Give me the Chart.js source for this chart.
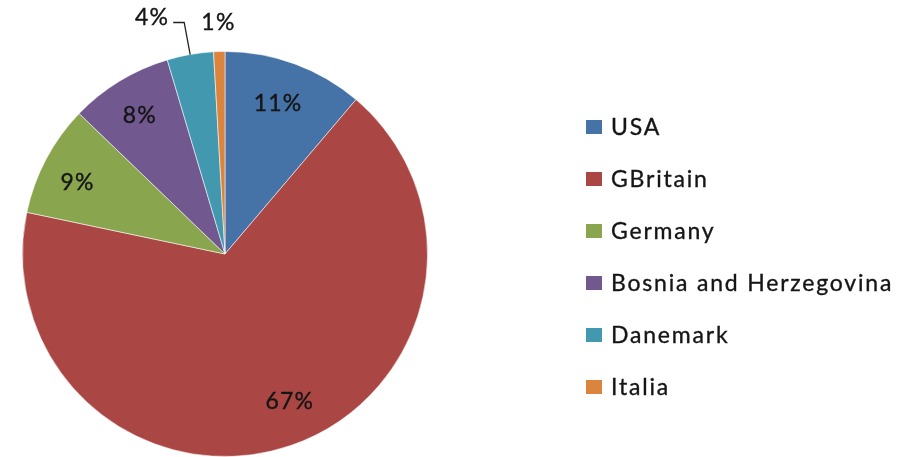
<!DOCTYPE html>
<html>
<head>
<meta charset="utf-8">
<script src="https://cdn.jsdelivr.net/npm/chart.js@4.4.0/dist/chart.umd.min.js"></script>
<style>
  html, body { margin: 0; padding: 0; background: #fff; }
  canvas { display: block; }
</style>
</head>
<body>
<canvas id="pie" width="898" height="457"></canvas>
<script>
const countries = ['USA', 'GBritain', 'Germany', 'Bosnia and Herzegovina', 'Danemark', 'Italia'];
const shares = [11.2, 67.1, 8.9, 8.2, 3.7, 0.9];
const sliceColors = ['#4572A7', '#AA4643', '#89A54E', '#71588F', '#4198AF', '#DB843D'];
// which slices get their label outside the pie (the two thin ones)
const outsideLabel = [false, false, false, false, true, true];
const leaderLine = [false, false, false, false, true, false];

const total = shares.reduce((a, b) => a + b, 0);
const pctLabels = shares.map((v) => `${Math.round((v / total) * 100)}%`);

const FONT = '23px Lato';
const TEXT_COLOR = '#151515';

// draw text a touch heavier, closer to the blurred Calibri of the original
function heavyText(ctx, text, x, y) {
  ctx.fillText(text, x, y);
  ctx.strokeText(text, x, y);
}

const sliceLabels = {
  id: 'sliceLabels',
  afterDatasetsDraw(chart, args, opts) {
    const { ctx } = chart;
    const meta = chart.getDatasetMeta(0);
    ctx.save();
    ctx.font = FONT;
    ctx.letterSpacing = '1.2px';
    ctx.fillStyle = TEXT_COLOR;
    ctx.textBaseline = 'middle';

    meta.data.forEach((arc, i) => {
      const { x, y, startAngle, endAngle, outerRadius } = arc.getProps(
        ['x', 'y', 'startAngle', 'endAngle', 'outerRadius'], true);
      const mid = (startAngle + endAngle) / 2;
      const text = pctLabels[i];
      const [nx, ny] = opts.nudge[i] || [0, 0];

      ctx.strokeStyle = TEXT_COLOR;
      ctx.lineWidth = 0.35;

      if (!outsideLabel[i]) {
        const r = outerRadius * 0.79;
        ctx.textAlign = 'center';
        heavyText(ctx, text, x + Math.cos(mid) * r + nx, y + Math.sin(mid) * r + ny);
        return;
      }

      if (leaderLine[i]) {
        const px = x + Math.cos(mid) * outerRadius;
        const py = y + Math.sin(mid) * outerRadius;
        const ex = px - 6;
        const ey = y - outerRadius - 29;
        ctx.strokeStyle = '#222';
        ctx.lineWidth = 1.3;
        ctx.beginPath();
        ctx.moveTo(px, py);
        ctx.lineTo(ex, ey);
        ctx.lineTo(ex - 11, ey);
        ctx.stroke();
        ctx.strokeStyle = TEXT_COLOR;
        ctx.lineWidth = 0.35;
        ctx.textAlign = 'right';
        heavyText(ctx, text, ex - 15, ey - 5);
        return;
      }

      const r = outerRadius + 29;
      ctx.textAlign = 'center';
      heavyText(ctx, text, x + Math.cos(mid) * r + nx, y + Math.sin(mid) * r + ny);
    });
    ctx.restore();
  },
};

const sideLegend = {
  id: 'sideLegend',
  afterDraw(chart, args, opts) {
    const { ctx } = chart;
    const ds = chart.data.datasets[0];
    ctx.save();
    ctx.font = FONT;
    ctx.letterSpacing = '1.8px';
    ctx.textAlign = 'left';
    ctx.textBaseline = 'alphabetic';
    ctx.strokeStyle = TEXT_COLOR;
    ctx.lineWidth = 0.35;
    chart.data.labels.forEach((label, i) => {
      const cy = opts.top + i * opts.rowGap;
      ctx.fillStyle = ds.backgroundColor[i];
      ctx.fillRect(opts.left, cy - 7, 16, 14);
      ctx.fillStyle = TEXT_COLOR;
      heavyText(ctx, label, opts.left + 25, cy + 8);
    });
    ctx.restore();
  },
};

new Chart(document.getElementById('pie'), {
  type: 'pie',
  data: {
    labels: countries,
    datasets: [
      {
        data: shares,
        backgroundColor: sliceColors,
        borderColor: 'rgba(255,255,255,0.55)',
        borderWidth: 1,
      },
    ],
  },
  options: {
    responsive: false,
    animation: false,
    layout: { padding: { left: 22, right: 470, top: 51, bottom: 0 } },
    plugins: {
      legend: { display: false },
      tooltip: { enabled: false },
      sliceLabels: { nudge: [[-2, 0], [13, -4], [-6, 3], [-2, -2], [0, 0], [0, 0]] },
      sideLegend: { left: 586, top: 127, rowGap: 52 },
    },
  },
  plugins: [sliceLabels, sideLegend],
});
</script>
</body>
</html>
